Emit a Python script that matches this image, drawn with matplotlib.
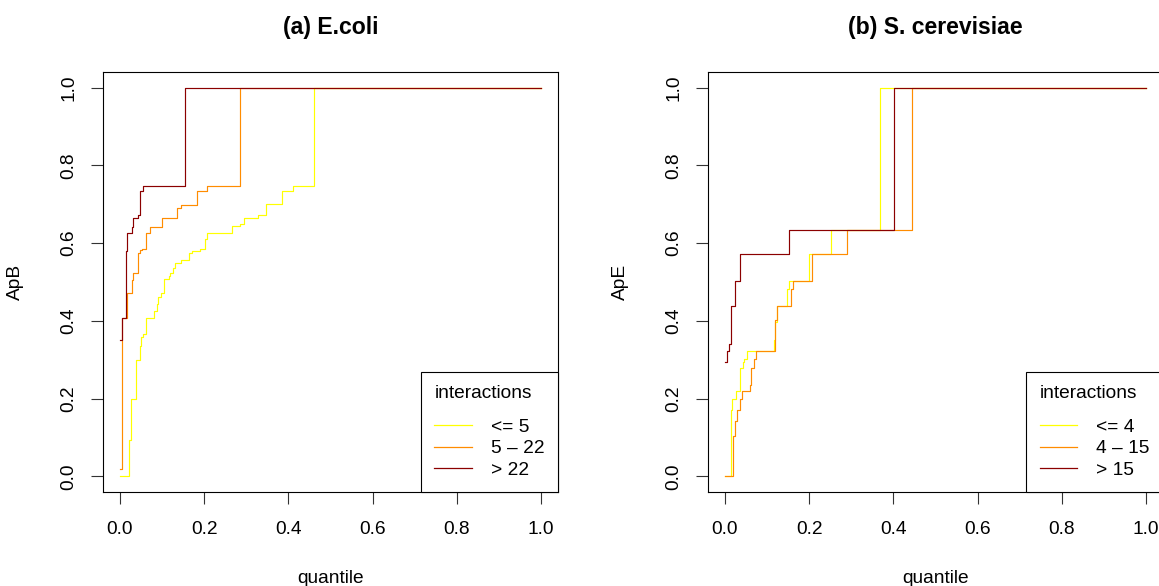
import matplotlib
matplotlib.use("Agg")
import matplotlib.pyplot as plt

plt.rcParams['font.family'] = ['Liberation Sans', 'DejaVu Sans']

# (a) E.coli  -- step curves (quantile, ApB)
ecoli_q_low = [0, 0.022, 0.026, 0.038, 0.0475, 0.051, 0.056, 0.061, 0.080, 0.087,
               0.091, 0.097, 0.105, 0.116, 0.120, 0.127, 0.131, 0.145, 0.164, 0.171,
               0.190, 0.203, 0.207, 0.265, 0.286, 0.295, 0.327, 0.346, 0.385, 0.412,
               0.460, 1.0]
ecoli_ap_low = [0, 0.095, 0.198, 0.299, 0.335, 0.359, 0.366, 0.408, 0.426, 0.443,
                0.461, 0.473, 0.508, 0.516, 0.523, 0.536, 0.549, 0.556, 0.574, 0.581,
                0.585, 0.610, 0.627, 0.643, 0.650, 0.665, 0.672, 0.700, 0.733, 0.747,
                1.0, 1.0]
ecoli_q_mid = [0, 0.0048, 0.018, 0.028, 0.032, 0.0435, 0.0475, 0.052, 0.0625, 0.071,
               0.1006, 0.136, 0.146, 0.184, 0.207, 0.285, 1.0]
ecoli_ap_mid = [0.019, 0.408, 0.473, 0.506, 0.523, 0.574, 0.583, 0.585, 0.626, 0.641,
                0.664, 0.691, 0.699, 0.733, 0.747, 1.0, 1.0]
ecoli_q_high = [0, 0.0048, 0.0135, 0.0174, 0.028, 0.032, 0.042, 0.047, 0.056, 0.154, 1.0]
ecoli_ap_high = [0.352, 0.408, 0.581, 0.626, 0.641, 0.664, 0.672, 0.733, 0.747, 1.0, 1.0]
ecoli_labels = ['<= 5', '5 \u2013 22', '> 22']

# (b) S. cerevisiae -- step curves (quantile, ApE)
yeast_q_low = [0, 0.0135, 0.0174, 0.026, 0.037, 0.042, 0.046, 0.0515, 0.116, 0.120,
               0.123, 0.148, 0.153, 0.200, 0.252, 0.369, 1.0]
yeast_ap_low = [0, 0.172, 0.199, 0.219, 0.278, 0.294, 0.303, 0.323, 0.352, 0.396,
                0.438, 0.481, 0.502, 0.572, 0.633, 1.0, 1.0]
yeast_q_mid = [0, 0.020, 0.0245, 0.029, 0.036, 0.040, 0.059, 0.063, 0.069, 0.074,
               0.118, 0.123, 0.158, 0.162, 0.207, 0.290, 0.443, 1.0]
yeast_ap_mid = [0, 0.104, 0.142, 0.172, 0.199, 0.219, 0.235, 0.278, 0.301, 0.323,
                0.402, 0.438, 0.481, 0.502, 0.572, 0.633, 1.0, 1.0]
yeast_q_high = [0, 0.004, 0.0087, 0.014, 0.025, 0.036, 0.151, 0.402, 1.0]
yeast_ap_high = [0.294, 0.323, 0.340, 0.438, 0.502, 0.572, 0.633, 1.0, 1.0]
yeast_labels = ['<= 4', '4 \u2013 15', '> 15']

colors = ['#FFFF00', '#FF8C00', '#8B0000']
ticks = [0, 0.2, 0.4, 0.6, 0.8, 1.0]
fs = 13.8

fig = plt.figure(figsize=(11.59, 5.86), dpi=100)
ax1 = fig.add_axes([0.0889, 0.1604, 0.3926, 0.7167])
ax2 = fig.add_axes([0.6109, 0.1604, 0.3926, 0.7167])


def panel(ax, curves, labels, title, ylab):
    for (q, ap), c in zip(curves, colors):
        ax.plot(q, ap, drawstyle='steps-post', color=c, lw=0.85)
    ax.set_xlim(-0.04, 1.04)
    ax.set_ylim(-0.04, 1.04)
    ax.set_xticks(ticks)
    ax.set_yticks(ticks)
    ax.set_xticklabels(['%.1f' % t for t in ticks], fontsize=fs)
    ax.set_yticklabels(['%.1f' % t for t in ticks], fontsize=fs, rotation=90, va='center')
    ax.tick_params(axis='x', length=8.6, width=0.8, color='#333333', pad=12)
    ax.tick_params(axis='y', length=8.6, width=0.8, color='#333333', pad=10)
    for s in ax.spines.values():
        s.set_linewidth(0.8)
    ax.set_title(title, fontsize=16.6, fontweight='bold', y=1.105, pad=0, va='center')
    ax.set_xlabel('quantile', fontsize=fs, va='center')
    ax.xaxis.set_label_coords(0.5, -0.207)
    ax.set_ylabel(ylab, fontsize=fs, va='center')
    ax.yaxis.set_label_coords(-0.193, 0.5)
    handles = [plt.Line2D([], [], color=c, lw=0.9) for c in colors]
    leg = ax.legend(handles, labels, title='interactions', loc='lower right',
                    bbox_to_anchor=(1.0, 0.0), borderaxespad=0, fancybox=False,
                    edgecolor='black', framealpha=1, fontsize=fs, title_fontsize=fs,
                    handlelength=1.95, handletextpad=1.0, labelspacing=0.2,
                    borderpad=0.7, alignment='left')
    leg.get_frame().set_linewidth(0.8)
    leg._legend_box.sep = 12


panel(ax1, [(ecoli_q_low, ecoli_ap_low), (ecoli_q_mid, ecoli_ap_mid),
            (ecoli_q_high, ecoli_ap_high)], ecoli_labels, '(a) E.coli', 'ApB')
panel(ax2, [(yeast_q_low, yeast_ap_low), (yeast_q_mid, yeast_ap_mid),
            (yeast_q_high, yeast_ap_high)], yeast_labels, '(b) S. cerevisiae', 'ApE')

fig.savefig('out.png', dpi=100)
